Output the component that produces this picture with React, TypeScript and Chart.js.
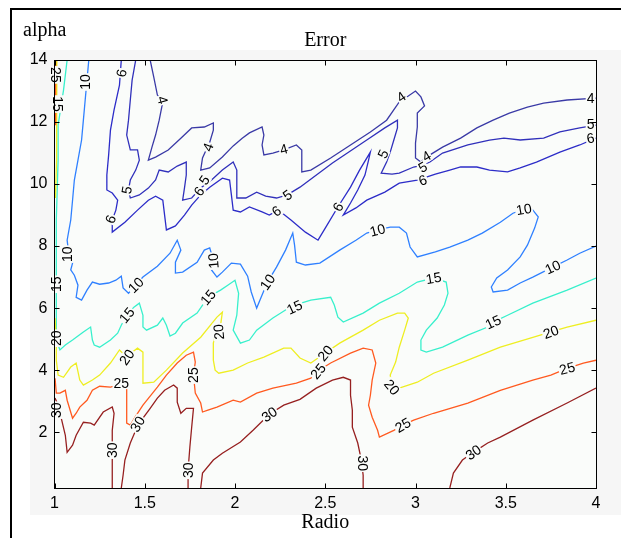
import React, { useEffect, useRef } from 'react';
import { Chart, registerables } from 'chart.js';

Chart.register(...registerables);

// ---- axes ----
const xTicks = [1, 1.5, 2, 2.5, 3, 3.5, 4];
const yTicks = [2, 4, 6, 8, 10, 12, 14];
const xRange = [1, 4];
const yRange = [0.2, 14];

// ---- contour paths, points are [Radio, alpha] ----
const c4 = [[1.53,14.0],[1.55,13.45],[1.57,12.87],[1.60,12.65],[1.58,12.06],[1.56,11.58],[1.54,11.19],[1.52,10.77],[1.56,10.87],[1.63,11.10],[1.70,11.48],[1.76,11.81],[1.83,11.84],[1.88,11.97],[1.88,11.74],[1.86,11.35],[1.84,11.10],[1.82,10.84],[1.81,10.45],[1.86,10.52],[1.93,10.87],[1.99,11.23],[2.04,11.48],[2.08,11.65],[2.15,11.84],[2.16,11.58],[2.15,11.26],[2.16,10.94],[2.21,11.00],[2.27,11.10],[2.34,11.26],[2.37,11.10],[2.37,10.77],[2.37,10.39],[2.42,10.45],[2.53,10.84],[2.64,11.26],[2.75,11.68],[2.84,12.06],[2.91,12.65],[2.96,12.84],[3.00,13.00],[3.03,12.81],[3.05,12.52],[3.01,12.29],[3.01,11.84],[3.00,11.32],[3.00,10.84],[3.03,10.71],[3.06,10.87],[3.15,11.19],[3.25,11.48],[3.34,11.81],[3.43,12.06],[3.52,12.29],[3.62,12.48],[3.71,12.61],[3.84,12.71],[4.00,12.77]];
const c5 = [[1.45,14.0],[1.43,13.35],[1.42,12.71],[1.41,12.06],[1.40,11.58],[1.42,11.10],[1.46,11.10],[1.47,10.77],[1.45,10.45],[1.42,10.13],[1.41,9.81],[1.42,9.55],[1.47,9.65],[1.52,9.87],[1.56,10.13],[1.58,10.45],[1.63,10.39],[1.68,10.58],[1.73,10.71],[1.73,10.29],[1.72,9.87],[1.71,9.48],[1.76,9.55],[1.81,9.87],[1.87,10.13],[1.93,10.45],[1.99,10.71],[2.01,10.45],[2.01,9.97],[2.01,9.55],[2.06,9.55],[2.12,9.74],[2.17,9.61],[2.23,9.55],[2.29,9.65],[2.36,9.90],[2.54,10.68],[2.73,11.42],[2.83,11.81],[2.90,12.06],[2.90,11.81],[2.88,11.42],[2.86,11.03],[2.84,10.71],[2.81,10.35],[2.87,10.32],[2.91,10.35],[2.99,10.55],[3.04,10.61],[3.08,10.71],[3.15,11.00],[3.29,11.26],[3.41,11.42],[3.49,11.48],[3.58,11.42],[3.71,11.48],[3.80,11.68],[3.91,11.81],[4.00,11.90]];
const c6 = [[1.37,14.0],[1.36,13.19],[1.33,12.39],[1.31,11.74],[1.30,10.94],[1.29,10.29],[1.29,9.81],[1.32,9.71],[1.35,9.48],[1.34,9.16],[1.32,8.84],[1.32,8.45],[1.39,8.77],[1.46,9.16],[1.52,9.48],[1.56,9.61],[1.60,9.48],[1.61,9.00],[1.62,8.52],[1.67,8.65],[1.72,9.00],[1.76,9.32],[1.81,9.65],[1.86,9.90],[1.93,10.19],[1.97,10.13],[1.98,9.65],[1.99,9.16],[2.03,9.10],[2.08,9.26],[2.15,9.10],[2.19,9.00],[2.24,9.16],[2.31,8.84],[2.39,8.45],[2.46,8.19],[2.50,8.58],[2.57,9.26],[2.64,9.90],[2.69,10.45],[2.75,11.03],[2.74,10.77],[2.72,10.29],[2.68,9.81],[2.64,9.39],[2.60,9.00],[2.67,9.23],[2.73,9.48],[2.83,9.74],[2.91,10.03],[3.01,10.13],[3.11,10.32],[3.19,10.45],[3.25,10.55],[3.34,10.55],[3.41,10.45],[3.51,10.39],[3.58,10.52],[3.67,10.71],[3.80,11.03],[3.91,11.26],[4.00,11.48]];
const c10 = [[1.19,14.0],[1.18,13.35],[1.17,12.71],[1.16,12.06],[1.15,11.42],[1.13,10.77],[1.11,10.13],[1.10,9.48],[1.09,8.84],[1.07,8.19],[1.08,7.71],[1.10,7.45],[1.09,7.23],[1.11,7.06],[1.13,6.74],[1.12,6.35],[1.15,6.26],[1.18,6.58],[1.21,6.84],[1.25,6.77],[1.30,6.81],[1.34,6.90],[1.37,7.03],[1.38,6.65],[1.41,6.48],[1.45,6.74],[1.49,7.00],[1.57,7.35],[1.64,7.77],[1.68,8.19],[1.70,7.87],[1.67,7.48],[1.67,7.13],[1.71,7.16],[1.79,7.48],[1.83,7.87],[1.86,7.94],[1.88,7.55],[1.87,7.23],[1.90,7.00],[1.93,7.16],[1.98,7.45],[2.03,7.42],[2.07,7.03],[2.09,6.52],[2.12,6.00],[2.15,6.42],[2.18,6.84],[2.23,7.32],[2.28,7.87],[2.32,8.42],[2.33,8.03],[2.34,7.48],[2.39,7.39],[2.47,7.45],[2.58,7.87],[2.67,8.19],[2.73,8.42],[2.79,8.52],[2.86,8.61],[2.91,8.61],[2.95,8.42],[2.97,7.97],[3.01,7.65],[3.11,7.81],[3.19,7.97],[3.29,8.19],[3.37,8.42],[3.47,8.77],[3.54,9.06],[3.60,9.19],[3.65,9.16],[3.68,8.94],[3.66,8.58],[3.62,8.03],[3.58,7.65],[3.51,7.23],[3.45,6.97],[3.42,6.68],[3.43,6.52],[3.51,6.58],[3.58,6.81],[3.65,7.00],[3.76,7.32],[3.84,7.55],[3.91,7.77],[4.00,8.00]];
const c15 = [[1.07,14.0],[1.05,13.03],[1.02,11.90],[1.02,10.77],[1.01,8.84],[1.01,6.90],[1.01,5.29],[1.02,4.81],[1.03,4.65],[1.06,4.81],[1.10,4.97],[1.16,5.23],[1.20,5.39],[1.21,4.97],[1.22,4.81],[1.25,4.74],[1.31,4.97],[1.35,5.19],[1.37,5.45],[1.40,5.77],[1.44,6.03],[1.47,6.16],[1.49,5.77],[1.49,5.39],[1.51,5.29],[1.57,5.45],[1.60,5.68],[1.62,5.45],[1.64,5.10],[1.67,5.19],[1.71,5.52],[1.79,5.84],[1.85,6.35],[1.92,6.58],[1.96,6.74],[2.00,6.90],[2.02,6.48],[2.01,5.77],[1.99,5.29],[2.03,4.87],[2.08,4.97],[2.12,5.29],[2.21,5.68],[2.28,5.94],[2.33,6.10],[2.42,6.26],[2.53,6.35],[2.55,6.10],[2.57,5.71],[2.60,5.55],[2.71,5.84],[2.80,6.16],[2.91,6.48],[3.01,6.84],[3.10,6.97],[3.17,6.84],[3.18,6.48],[3.16,6.10],[3.12,5.68],[3.06,5.29],[3.03,4.97],[3.03,4.65],[3.06,4.58],[3.15,4.74],[3.29,5.13],[3.40,5.39],[3.43,5.55],[3.51,5.77],[3.65,6.16],[3.84,6.58],[4.00,6.97]];
const c20top = [[1.013,14.0],[1.013,12.06],[1.01,10.77],[1.005,9.55]];
const c20 = [[1.003,5.68],[1.01,4.97],[1.01,4.32],[1.02,3.84],[1.05,3.77],[1.09,4.10],[1.12,4.23],[1.14,3.68],[1.16,3.52],[1.21,3.68],[1.25,3.84],[1.31,4.23],[1.36,4.65],[1.40,4.42],[1.43,4.58],[1.46,4.71],[1.49,4.58],[1.49,4.06],[1.49,3.58],[1.55,3.61],[1.62,4.00],[1.71,4.55],[1.81,5.06],[1.90,5.71],[1.93,5.87],[1.92,5.45],[1.89,5.13],[1.88,4.87],[1.88,4.32],[1.89,4.00],[1.91,3.90],[1.99,4.00],[2.07,4.23],[2.16,4.42],[2.27,4.71],[2.31,4.71],[2.36,4.39],[2.42,4.23],[2.50,4.55],[2.58,4.87],[2.71,5.29],[2.80,5.61],[2.90,5.84],[2.94,5.84],[2.96,5.68],[2.94,5.29],[2.91,4.74],[2.89,4.26],[2.86,3.84],[2.87,3.45],[2.91,3.42],[3.01,3.61],[3.10,3.90],[3.29,4.32],[3.47,4.74],[3.65,5.06],[3.75,5.23],[3.84,5.39],[4.00,5.61]];
const c25top = [[1.006,14.0],[1.006,11.90]];
const c25 = [[1.003,3.74],[1.01,3.26],[1.03,3.26],[1.06,3.35],[1.07,3.03],[1.10,2.45],[1.12,2.61],[1.14,2.81],[1.18,3.03],[1.21,3.35],[1.25,3.48],[1.31,3.45],[1.37,3.55],[1.40,3.42],[1.40,2.87],[1.40,2.29],[1.42,2.23],[1.45,2.52],[1.49,2.87],[1.53,3.16],[1.57,3.45],[1.62,3.84],[1.68,4.23],[1.73,4.48],[1.77,4.58],[1.78,4.26],[1.77,3.84],[1.78,3.26],[1.81,2.94],[1.82,2.65],[1.85,2.71],[1.90,2.81],[1.99,3.03],[2.03,2.97],[2.12,3.26],[2.21,3.42],[2.34,3.58],[2.42,3.74],[2.46,3.97],[2.53,4.23],[2.64,4.55],[2.71,4.71],[2.76,4.65],[2.78,4.23],[2.76,3.68],[2.75,3.19],[2.74,2.87],[2.76,2.48],[2.79,2.06],[2.80,1.84],[2.88,2.06],[2.93,2.23],[2.99,2.39],[3.10,2.61],[3.29,2.94],[3.47,3.35],[3.65,3.68],[3.75,3.84],[3.84,4.06],[3.93,4.23],[4.00,4.32]];
const c30a = [[1.003,3.10],[1.02,2.87],[1.04,2.39],[1.06,1.90],[1.07,1.35],[1.10,1.58],[1.12,1.90],[1.16,2.32],[1.20,2.29],[1.22,2.23],[1.27,2.65],[1.32,2.81],[1.33,2.61],[1.32,2.06],[1.32,1.42],[1.32,0.77],[1.32,0.2]];
const c30b = [[1.37,0.2],[1.38,0.61],[1.39,1.10],[1.42,1.65],[1.45,2.06],[1.49,2.45],[1.53,2.77],[1.57,3.10],[1.61,3.35],[1.66,3.52],[1.68,3.42],[1.68,2.97],[1.70,2.61],[1.73,2.77],[1.77,2.77],[1.76,2.16],[1.75,1.52],[1.74,0.77],[1.74,0.2]];
const c30c = [[1.81,0.2],[1.82,0.68],[1.88,1.10],[1.93,1.32],[2.03,1.68],[2.10,2.06],[2.19,2.58],[2.27,2.87],[2.36,3.06],[2.45,3.42],[2.54,3.68],[2.60,3.77],[2.64,3.68],[2.64,3.19],[2.65,2.71],[2.65,2.16],[2.68,1.65],[2.70,1.10],[2.71,0.61],[2.71,0.2]];
const c30d = [[3.19,0.2],[3.21,0.68],[3.26,1.10],[3.32,1.35],[3.40,1.65],[3.47,1.84],[3.65,2.39],[3.84,2.94],[4.00,3.42]];

const contours = [
  { level: 30, path: c30a }, { level: 30, path: c30b }, { level: 30, path: c30c }, { level: 30, path: c30d },
  { level: 25, path: c25top }, { level: 25, path: c25 },
  { level: 20, path: c20top }, { level: 20, path: c20 },
  { level: 15, path: c15 },
  { level: 10, path: c10 },
  { level: 6, path: c6 }, { level: 5, path: c5 }, { level: 4, path: c4 },
];

// ---- contour labels: text, position, rotation (deg) ----
const contourLabels = [
  { t: '25', x: 1.01, y: 13.52, r: 90 }, { t: '15', x: 1.02, y: 12.58, r: 90 },
  { t: '10', x: 1.17, y: 13.29, r: -90 }, { t: '6', x: 1.37, y: 13.58, r: -80 },
  { t: '4', x: 1.60, y: 12.71, r: 75 }, { t: '5', x: 1.40, y: 9.81, r: -80 },
  { t: '6', x: 1.31, y: 8.87, r: -70 }, { t: '4', x: 1.85, y: 11.19, r: -70 },
  { t: '6', x: 1.80, y: 9.77, r: -55 }, { t: '5', x: 1.83, y: 10.13, r: -55 },
  { t: '4', x: 2.27, y: 11.13, r: -15 }, { t: '6', x: 2.23, y: 9.13, r: -35 },
  { t: '5', x: 2.29, y: 9.65, r: -35 }, { t: '6', x: 2.57, y: 9.26, r: -60 },
  { t: '5', x: 2.82, y: 10.97, r: -65 }, { t: '4', x: 2.92, y: 12.81, r: -35 },
  { t: '4', x: 3.06, y: 10.90, r: -30 }, { t: '5', x: 3.04, y: 10.55, r: -30 },
  { t: '6', x: 3.04, y: 10.13, r: -20 }, { t: '4', x: 3.97, y: 12.77, r: 0 },
  { t: '5', x: 3.97, y: 11.94, r: 0 }, { t: '6', x: 3.97, y: 11.48, r: -10 },
  { t: '10', x: 1.07, y: 7.74, r: -90 }, { t: '10', x: 1.45, y: 6.74, r: -45 },
  { t: '10', x: 1.88, y: 7.52, r: -95 }, { t: '10', x: 2.18, y: 6.84, r: -55 },
  { t: '10', x: 2.79, y: 8.52, r: -15 }, { t: '10', x: 3.60, y: 9.19, r: -10 },
  { t: '10', x: 3.76, y: 7.32, r: -25 },
  { t: '15', x: 1.01, y: 6.77, r: -90 }, { t: '20', x: 1.01, y: 5.03, r: -90 },
  { t: '15', x: 1.40, y: 5.77, r: -50 }, { t: '15', x: 1.85, y: 6.35, r: -50 },
  { t: '15', x: 2.33, y: 6.03, r: -25 }, { t: '15', x: 3.10, y: 6.97, r: -10 },
  { t: '15', x: 3.43, y: 5.55, r: -25 },
  { t: '20', x: 1.40, y: 4.42, r: -55 }, { t: '20', x: 1.91, y: 5.23, r: -95 },
  { t: '20', x: 2.50, y: 4.55, r: -50 }, { t: '20', x: 2.87, y: 3.45, r: 50 },
  { t: '20', x: 3.75, y: 5.23, r: -20 },
  { t: '25', x: 1.37, y: 3.58, r: 0 }, { t: '25', x: 1.77, y: 3.84, r: -90 },
  { t: '25', x: 2.46, y: 3.97, r: -50 }, { t: '25', x: 2.93, y: 2.23, r: -30 },
  { t: '25', x: 3.84, y: 4.06, r: -15 },
  { t: '30', x: 1.01, y: 2.71, r: -90 }, { t: '30', x: 1.32, y: 1.42, r: -90 },
  { t: '30', x: 1.46, y: 2.26, r: -60 }, { t: '30', x: 1.74, y: 0.77, r: -90 },
  { t: '30', x: 2.19, y: 2.58, r: -35 }, { t: '30', x: 2.71, y: 1.00, r: 90 },
  { t: '30', x: 3.32, y: 1.35, r: -35 },
];

const titleText = 'Error';
const xTitle = 'Radio';
const yTitle = 'alpha';

// ---- styles ----
const levelColors: Record<number, string> = {
  4: '#3a3aa6', 5: '#3030bb', 6: '#2c2cc8', 10: '#2f80ff',
  15: '#38f0cc', 20: '#eeee22', 25: '#ff5a20', 30: '#962020',
};
const SANS = '"Liberation Sans", Arial, Helvetica, sans-serif';
const SERIF = '"Liberation Serif", "Times New Roman", serif';
const PLOT_BG = '#fafcfa';
const FIG_BG = '#f6f6f6';

const decor = {
  id: 'decor',
  beforeDraw(chart: any) {
    const { ctx, chartArea: a } = chart;
    ctx.save();
    ctx.fillStyle = '#ffffff';
    ctx.fillRect(0, 0, chart.width, chart.height);
    ctx.fillStyle = FIG_BG;
    ctx.fillRect(30, 50, chart.width - 30, 465);
    ctx.fillStyle = PLOT_BG;
    ctx.fillRect(a.left, a.top, a.right - a.left, a.bottom - a.top);
    ctx.restore();
  },
  afterDatasetsDraw(chart: any) {
    const { ctx } = chart;
    const xs = chart.scales.x;
    const ys = chart.scales.y;
    ctx.save();
    ctx.font = `14px ${SANS}`;
    ctx.textAlign = 'center';
    ctx.textBaseline = 'middle';
    for (const l of contourLabels) {
      const px = xs.getPixelForValue(l.x);
      const py = ys.getPixelForValue(l.y);
      ctx.save();
      ctx.translate(px, py);
      ctx.rotate((l.r * Math.PI) / 180);
      const w = ctx.measureText(l.t).width + 2;
      ctx.fillStyle = PLOT_BG;
      ctx.fillRect(-w / 2, -6, w, 12);
      ctx.fillStyle = '#000';
      ctx.fillText(l.t, 0, 1);
      ctx.restore();
    }
    ctx.restore();
  },
  afterDraw(chart: any) {
    const { ctx, chartArea: a } = chart;
    const xs = chart.scales.x;
    const ys = chart.scales.y;
    const L = Math.floor(a.left) + 0.5;
    const R = Math.floor(a.right) + 0.5;
    const T = Math.floor(a.top) + 0.5;
    const B = Math.floor(a.bottom) + 0.5;
    ctx.save();
    ctx.strokeStyle = '#000';
    ctx.lineWidth = 1;
    ctx.strokeRect(L, T, R - L, B - T);
    ctx.beginPath();
    for (const v of xTicks) {
      const p = Math.round(xs.getPixelForValue(v)) + 0.5;
      ctx.moveTo(p, B); ctx.lineTo(p, B - 5);
      ctx.moveTo(p, T); ctx.lineTo(p, T + 5);
    }
    for (const v of yTicks) {
      const p = Math.round(ys.getPixelForValue(v)) + 0.5;
      ctx.moveTo(L, p); ctx.lineTo(L + 5, p);
      ctx.moveTo(R, p); ctx.lineTo(R - 5, p);
    }
    ctx.stroke();
    // titles
    ctx.fillStyle = '#000';
    ctx.font = `20px ${SERIF}`;
    ctx.textBaseline = 'alphabetic';
    ctx.textAlign = 'center';
    const cx = (a.left + a.right) / 2;
    ctx.fillText(titleText, cx, 46);
    ctx.fillText(xTitle, cx, 528);
    ctx.textAlign = 'left';
    ctx.fillText(yTitle, 23, 36);
    // outer frame (top and left edges)
    ctx.fillRect(10, 8, chart.width - 10, 2);
    ctx.fillRect(10, 8, 2, chart.height - 8);
    ctx.restore();
  },
};

export default function App() {
  const ref = useRef<HTMLCanvasElement | null>(null);
  useEffect(() => {
    if (!ref.current) return;
    const datasets = contours.map((c) => ({
      data: c.path.map(([x, y]) => ({ x, y })),
      showLine: true,
      borderColor: levelColors[c.level],
      backgroundColor: levelColors[c.level],
      borderWidth: 1.3,
      pointRadius: 0,
      pointHoverRadius: 0,
      tension: 0,
      fill: false,
    }));
    const chart = new Chart(ref.current, {
      type: 'scatter',
      data: { datasets },
      options: {
        responsive: false,
        animation: false,
        devicePixelRatio: 1,
        events: [],
        layout: { padding: { top: 60, right: 25, left: 0, bottom: 0 } },
        plugins: { legend: { display: false }, tooltip: { enabled: false }, title: { display: false } },
        scales: {
          x: {
            type: 'linear',
            min: xRange[0],
            max: xRange[1],
            afterBuildTicks: (s: any) => { s.ticks = xTicks.map((v) => ({ value: v })); },
            afterFit: (s: any) => { s.height = 50; },
            grid: { display: false, drawTicks: false },
            border: { display: false },
            ticks: {
              color: '#000', padding: 6, maxRotation: 0, autoSkip: false,
              font: { family: SANS, size: 16 },
              callback: (v: any) => String(v),
            },
          },
          y: {
            type: 'linear',
            min: yRange[0],
            max: yRange[1],
            afterBuildTicks: (s: any) => { s.ticks = yTicks.map((v) => ({ value: v })); },
            afterFit: (s: any) => { s.width = 54.5; },
            grid: { display: false, drawTicks: false },
            border: { display: false },
            ticks: {
              color: '#000', padding: 7, autoSkip: false,
              font: { family: SANS, size: 16 },
              callback: (v: any) => String(v),
            },
          },
        },
      } as any,
      plugins: [decor],
    });
    return () => chart.destroy();
  }, []);
  return (
    <div style={{ position: 'absolute', left: 0, top: 0, width: 621, height: 538 }}>
      <canvas ref={ref} width={621} height={538} style={{ display: 'block' }} />
    </div>
  );
}
